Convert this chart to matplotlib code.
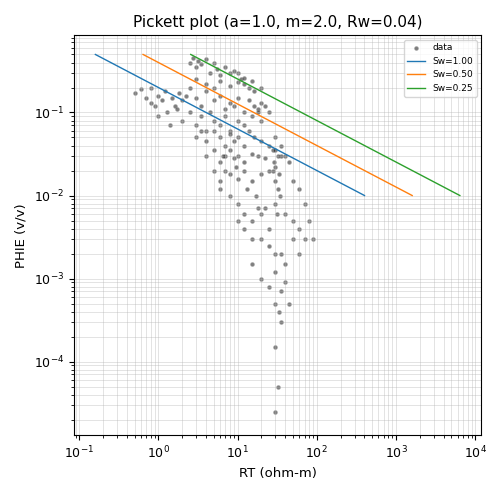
import numpy as np
import matplotlib.pyplot as plt

a, m, n, rw = 1.0, 2.0, 2.0, 0.04
sw_values = [1.00, 0.50, 0.25]
phi_ends = np.array([0.5, 0.01])

# points (RT ohm-m, PHIE v/v)
rt = [0.5, 0.6, 0.7, 0.8, 0.9, 1.0, 1.1, 1.2, 1.3, 1.5, 1.6, 1.8, 2.0, 2.2, 0.8, 1.0, 1.4, 1.7,
      2.5, 2.7, 3.0, 3.2, 3.5, 4.0, 4.5, 5.0, 5.5, 6.0, 7.0, 8.0, 9.0, 10, 11, 12, 14, 16,
      2.5, 3.0, 3.5, 4.0, 4.5, 5.0, 6.0, 7.0, 8.0, 9.0, 10, 12, 14, 16, 18, 20,
      2.0, 2.5, 3.0, 3.5, 4.0, 5.0, 6.0, 7.0, 8.0, 10, 12, 15, 18, 20, 22, 25,
      3.0, 4.0, 5.0, 6.0, 7.0, 8.0, 9.0, 10, 12, 14, 16, 20, 25, 30,
      4.0, 5.0, 6.0, 7.0, 8.0, 9.0, 10, 12, 15, 18, 22, 28,
      5.0, 6.0, 7.0, 8.0, 10, 12, 15, 20, 25, 30, 35,
      28, 30, 32, 34, 30, 31, 33, 29, 30, 32, 35, 40, 45, 50, 60, 70, 80, 90,
      6.0, 8.0, 10, 12, 15, 18, 20, 25, 40, 50, 60, 70,
      10, 12, 15, 20, 25, 30, 35, 40, 50, 60,
      15, 20, 25, 30, 35, 40, 30, 33, 35, 45, 30, 32, 30,
      3.0, 4.0, 5.0, 6.0, 8.0, 10, 12, 15, 20, 3.5, 6.5, 9.5, 13, 17, 22]
phie = [0.17, 0.19, 0.15, 0.2, 0.12, 0.16, 0.14, 0.18, 0.1, 0.15, 0.12, 0.17, 0.14, 0.16, 0.13, 0.09, 0.07, 0.11,
        0.4, 0.45, 0.35, 0.42, 0.38, 0.44, 0.3, 0.4, 0.33, 0.28, 0.35, 0.3, 0.32, 0.3, 0.25, 0.22, 0.2, 0.18,
        0.2, 0.15, 0.12, 0.18, 0.1, 0.14, 0.16, 0.11, 0.13, 0.12, 0.15, 0.1, 0.14, 0.12, 0.11, 0.13,
        0.08, 0.1, 0.07, 0.09, 0.06, 0.08, 0.07, 0.09, 0.06, 0.08, 0.07, 0.09, 0.1, 0.08, 0.12, 0.1,
        0.05, 0.045, 0.06, 0.05, 0.04, 0.055, 0.045, 0.05, 0.04, 0.06, 0.05, 0.045, 0.04, 0.05,
        0.03, 0.035, 0.025, 0.03, 0.035, 0.028, 0.03, 0.025, 0.032, 0.03, 0.028, 0.035,
        0.02, 0.015, 0.02, 0.018, 0.016, 0.02, 0.015, 0.018, 0.02, 0.022, 0.03,
        0.02, 0.015, 0.012, 0.01, 0.008, 0.006, 0.018, 0.025, 0.035, 0.03, 0.04, 0.03, 0.025, 0.015, 0.012, 0.008, 0.005, 0.003,
        0.012, 0.01, 0.008, 0.006, 0.005, 0.007, 0.006, 0.004, 0.006, 0.005, 0.004, 0.003,
        0.005, 0.004, 0.003, 0.003, 0.0025, 0.002, 0.002, 0.0015, 0.003, 0.002,
        0.0015, 0.001, 0.0008, 0.0012, 0.0007, 0.0009, 0.0005, 0.0004, 0.0003, 0.0005, 0.00015, 0.00005, 0.000025,
        0.25, 0.22, 0.2, 0.24, 0.21, 0.23, 0.26, 0.24, 0.2, 0.06, 0.03, 0.022, 0.012, 0.01, 0.007]

fig, ax = plt.subplots(figsize=(5.02, 4.95), dpi=100)
ax.scatter(rt, phie, s=8, c='black', alpha=0.5, edgecolors='#999999', linewidths=0.6, label='data')
for sw in sw_values:
    rt_line = a * rw / (sw ** n * phi_ends ** m)
    ax.plot(rt_line, phi_ends, lw=1, label=f'Sw={sw:.2f}')
ax.set_xscale('log')
ax.set_yscale('log')
ax.set_xlim(0.085, 12000)
ax.set_ylim(1.3e-5, 0.85)
ax.grid(True, which='both', lw=0.5, alpha=0.5)
ax.tick_params(labelsize=9)
ax.set_xlabel('RT (ohm-m)', fontsize=9.5)
ax.set_ylabel('PHIE (v/v)', fontsize=9.5)
ax.set_title('Pickett plot (a=1.0, m=2.0, Rw=0.04)', fontsize=11)
ax.legend(loc='upper right', fontsize=6.5)
plt.tight_layout()
plt.savefig('out.png')
